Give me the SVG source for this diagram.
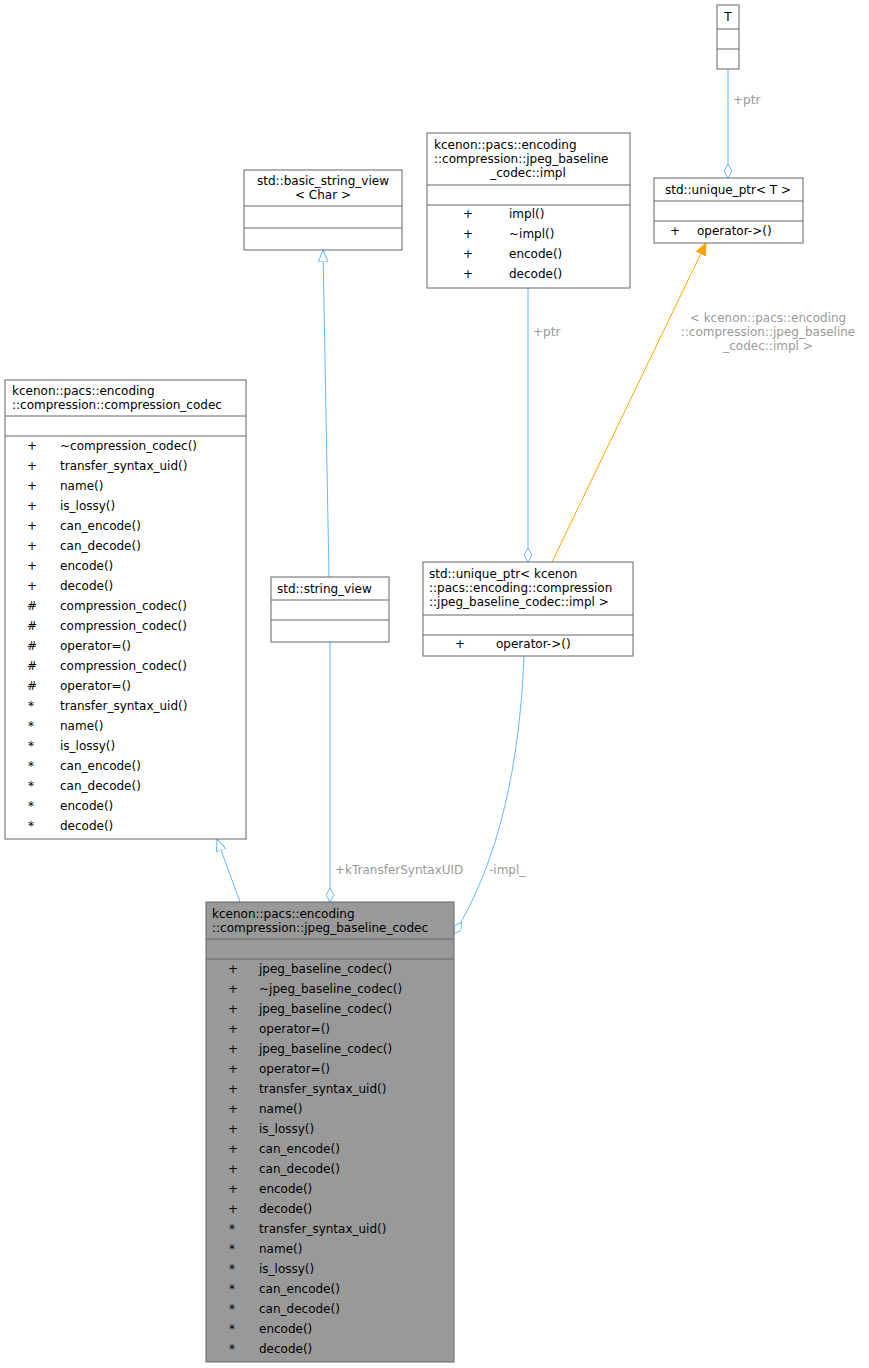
<svg xmlns="http://www.w3.org/2000/svg" width="869" height="1368" viewBox="0 0 869 1368">
<style>
text{font-family:"DejaVu Sans",sans-serif;font-size:12px;fill:#000}
.n rect,.n line{stroke:#666;stroke-width:1;fill:#fff}
.n line{fill:none}
.g rect{fill:#999}
.c{text-anchor:middle}
.e{fill:none;stroke:#63b8ff;stroke-width:1}
.l{fill:#9a9a9a}
</style>
<defs>
<marker id="dia" viewBox="0 0 14 8" refX="14" refY="4" markerWidth="14" markerHeight="8" orient="auto" markerUnits="userSpaceOnUse"><path d="M0,4 L7,0 L14,4 L7,8 Z" fill="#fff" stroke="#63b8ff"/></marker>
<marker id="tri" viewBox="0 0 12 10" refX="12" refY="5" markerWidth="12" markerHeight="10" orient="auto" markerUnits="userSpaceOnUse"><path d="M0,0 L12,5 L0,10 Z" fill="#fff" stroke="#63b8ff"/></marker>
<marker id="ora" viewBox="0 0 12 10" refX="12" refY="5" markerWidth="12" markerHeight="10" orient="auto" markerUnits="userSpaceOnUse"><path d="M0,0 L12,5 L0,10 Z" fill="#ffa500" stroke="#ffa500"/></marker>
</defs>
<g id="edges">
<path class="e" d="M728,69 L728,178" marker-end="url(#dia)"/>
<text class="l" x="733" y="104">+ptr</text>
<path class="e" d="M528,288 L528,562" marker-end="url(#dia)"/>
<text class="l" x="533" y="336">+ptr</text>
<path d="M552,562 L706,243" fill="none" stroke="#ffa500" marker-end="url(#ora)"/>
<text class="l c" x="768" y="322">&lt; kcenon::pacs::encoding</text>
<text class="l c" x="768" y="336">::compression::jpeg_baseline</text>
<text class="l c" x="768" y="350">_codec::impl &gt;</text>
<path class="e" d="M329,577 L323,250" marker-end="url(#tri)"/>
<path class="e" d="M240,902 L217,839" marker-end="url(#tri)"/>
<path class="e" d="M330,642 L330,902" marker-end="url(#dia)"/>
<text class="l" x="335" y="874">+kTransferSyntaxUID</text>
<path class="e" d="M524,656 C520,760 500,860 454,934" marker-end="url(#dia)"/>
<text class="l" x="489" y="874">-impl_</text>
</g>
<g id="T" class="n"><rect x="717" y="5" width="22" height="64"/><line x1="717" y1="29" x2="739" y2="29"/><line x1="717" y1="49" x2="739" y2="49"/><text class="c" x="728" y="21">T</text></g>
<g id="uptrT" class="n"><rect x="654" y="178" width="149" height="65"/><line x1="654" y1="201" x2="803" y2="201"/><line x1="654" y1="221" x2="803" y2="221"/><text class="c" x="728" y="194">std::unique_ptr&lt; T &gt;</text><text x="670" y="235">+</text><text x="697" y="235">operator-&gt;()</text></g>
<g id="impl" class="n"><rect x="427" y="133" width="203" height="155"/><line x1="427" y1="185" x2="630" y2="185"/><line x1="427" y1="205" x2="630" y2="205"/>
<text x="434" y="149">kcenon::pacs::encoding</text><text x="434" y="163">::compression::jpeg_baseline</text><text class="c" x="528" y="177">_codec::impl</text>
<text x="463" y="218">+</text><text x="509" y="218">impl()</text><text x="463" y="238">+</text><text x="509" y="238">~impl()</text><text x="463" y="258">+</text><text x="509" y="258">encode()</text><text x="463" y="278">+</text><text x="509" y="278">decode()</text></g>
<g id="bsv" class="n"><rect x="244" y="170" width="158" height="80"/><line x1="244" y1="206" x2="402" y2="206"/><line x1="244" y1="228" x2="402" y2="228"/><text class="c" x="323" y="185">std::basic_string_view</text><text class="c" x="323" y="199">&lt; Char &gt;</text></g>
<g id="sv" class="n"><rect x="271" y="577" width="118" height="65"/><line x1="271" y1="600" x2="389" y2="600"/><line x1="271" y1="620" x2="389" y2="620"/><text x="277" y="593">std::string_view</text></g>
<g id="uptrImpl" class="n"><rect x="423" y="562" width="210" height="94"/><line x1="423" y1="615" x2="633" y2="615"/><line x1="423" y1="635" x2="633" y2="635"/>
<text x="429" y="578">std::unique_ptr&lt; kcenon</text><text x="429" y="592">::pacs::encoding::compression</text><text x="429" y="606">::jpeg_baseline_codec::impl &gt;</text>
<text x="455" y="648">+</text><text x="496" y="648">operator-&gt;()</text></g>
<g id="cc" class="n"><rect x="5" y="380" width="241" height="459"/><line x1="5" y1="416" x2="246" y2="416"/><line x1="5" y1="436" x2="246" y2="436"/>
<text x="12" y="395">kcenon::pacs::encoding</text><text x="12" y="409">::compression::compression_codec</text>
<text x="27" y="450">+</text><text x="60" y="450">~compression_codec()</text>
<text x="27" y="470">+</text><text x="60" y="470">transfer_syntax_uid()</text>
<text x="27" y="490">+</text><text x="60" y="490">name()</text>
<text x="27" y="510">+</text><text x="60" y="510">is_lossy()</text>
<text x="27" y="530">+</text><text x="60" y="530">can_encode()</text>
<text x="27" y="550">+</text><text x="60" y="550">can_decode()</text>
<text x="27" y="570">+</text><text x="60" y="570">encode()</text>
<text x="27" y="590">+</text><text x="60" y="590">decode()</text>
<text x="27" y="630" dy="-20">#</text><text x="60" y="610">compression_codec()</text>
<text x="27" y="630">#</text><text x="60" y="630">compression_codec()</text>
<text x="27" y="650">#</text><text x="60" y="650">operator=()</text>
<text x="27" y="670">#</text><text x="60" y="670">compression_codec()</text>
<text x="27" y="690">#</text><text x="60" y="690">operator=()</text>
<text x="28" y="710">*</text><text x="60" y="710">transfer_syntax_uid()</text>
<text x="28" y="730">*</text><text x="60" y="730">name()</text>
<text x="28" y="750">*</text><text x="60" y="750">is_lossy()</text>
<text x="28" y="770">*</text><text x="60" y="770">can_encode()</text>
<text x="28" y="790">*</text><text x="60" y="790">can_decode()</text>
<text x="28" y="810">*</text><text x="60" y="810">encode()</text>
<text x="28" y="830">*</text><text x="60" y="830">decode()</text></g>
<g id="jpeg" class="n g"><rect x="206" y="902" width="248" height="460"/><line x1="206" y1="939" x2="454" y2="939"/><line x1="206" y1="959" x2="454" y2="959"/>
<text x="212" y="918">kcenon::pacs::encoding</text><text x="212" y="932">::compression::jpeg_baseline_codec</text>
<text x="228" y="973">+</text><text x="259" y="973">jpeg_baseline_codec()</text>
<text x="228" y="993">+</text><text x="259" y="993">~jpeg_baseline_codec()</text>
<text x="228" y="1013">+</text><text x="259" y="1013">jpeg_baseline_codec()</text>
<text x="228" y="1033">+</text><text x="259" y="1033">operator=()</text>
<text x="228" y="1053">+</text><text x="259" y="1053">jpeg_baseline_codec()</text>
<text x="228" y="1073">+</text><text x="259" y="1073">operator=()</text>
<text x="228" y="1093">+</text><text x="259" y="1093">transfer_syntax_uid()</text>
<text x="228" y="1113">+</text><text x="259" y="1113">name()</text>
<text x="228" y="1133">+</text><text x="259" y="1133">is_lossy()</text>
<text x="228" y="1153">+</text><text x="259" y="1153">can_encode()</text>
<text x="228" y="1173">+</text><text x="259" y="1173">can_decode()</text>
<text x="228" y="1193">+</text><text x="259" y="1193">encode()</text>
<text x="228" y="1213">+</text><text x="259" y="1213">decode()</text>
<text x="229" y="1233">*</text><text x="259" y="1233">transfer_syntax_uid()</text>
<text x="229" y="1253">*</text><text x="259" y="1253">name()</text>
<text x="229" y="1273">*</text><text x="259" y="1273">is_lossy()</text>
<text x="229" y="1293">*</text><text x="259" y="1293">can_encode()</text>
<text x="229" y="1313">*</text><text x="259" y="1313">can_decode()</text>
<text x="229" y="1333">*</text><text x="259" y="1333">encode()</text>
<text x="229" y="1353">*</text><text x="259" y="1353">decode()</text></g>
</svg>
